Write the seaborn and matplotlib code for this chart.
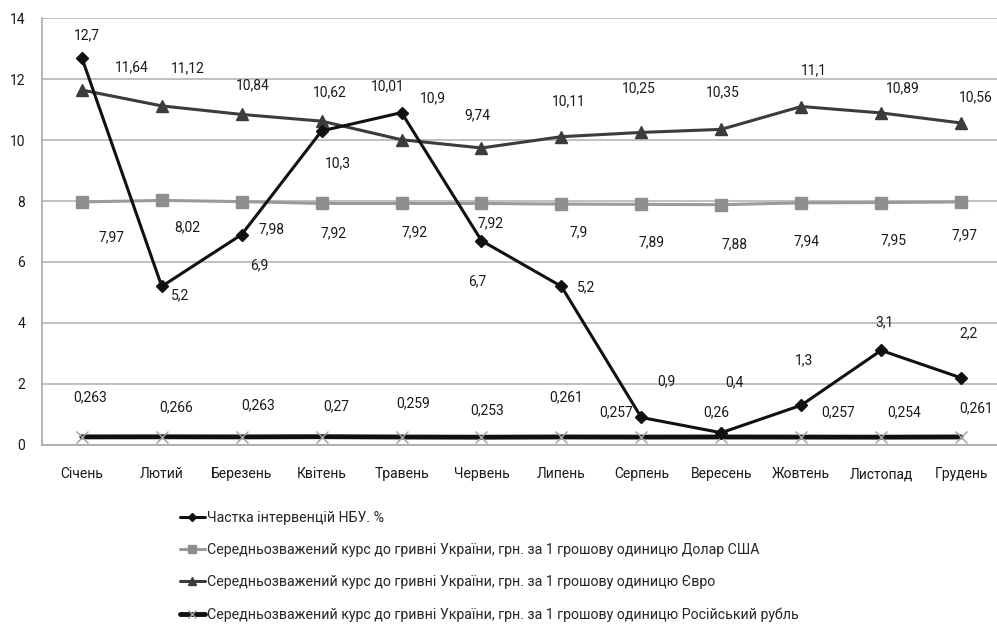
import pandas as pd
import matplotlib
matplotlib.use("Agg")
import matplotlib.pyplot as plt
import seaborn as sns

months = ['Січень', 'Лютий', 'Березень', 'Квітень', 'Травень', 'Червень',
          'Липень', 'Серпень', 'Вересень', 'Жовтень', 'Листопад', 'Грудень']

nbu_share = [12.7, 5.2, 6.9, 10.3, 10.9, 6.7, 5.2, 0.9, 0.4, 1.3, 3.1, 2.2]
usd_rate = [7.97, 8.02, 7.98, 7.92, 7.92, 7.92, 7.9, 7.89, 7.88, 7.94, 7.95, 7.97]
eur_rate = [11.64, 11.12, 10.84, 10.62, 10.01, 9.74, 10.11, 10.25, 10.35, 11.1, 10.89, 10.56]
rub_rate = [0.263, 0.266, 0.263, 0.27, 0.259, 0.253, 0.261, 0.257, 0.26, 0.257, 0.254, 0.261]

series_names = [
    'Частка інтервенцій НБУ. %',
    'Середньозважений курс до гривні України, грн. за 1 грошову одиницю Долар США',
    'Середньозважений курс до гривні України, грн. за 1 грошову одиницю Євро',
    'Середньозважений курс до гривні України, грн. за 1 грошову одиницю Російський рубль',
]

# label offsets in pixels (dx, dy with y downwards), as placed in the original
nbu_offsets = [(5, -22), (18, 9), (18, 31), (16, 32), (31, -14), (-4, 41),
               (25, 1), (25, -36), (13, -50), (3, -45), (3, -28), (7, -45)]
usd_offsets = [(30, 35), (25, 27), (30, 28), (12, 30), (13, 29), (9, 20),
               (17, 28), (10, 38), (13, 40), (5, 38), (12, 38), (3, 33)]
eur_offsets = [(50, -23), (26, -38), (11, -29), (8, -29), (-14, -53), (-4, -33),
               (7, -35), (-3, -44), (2, -37), (13, -36), (22, -25), (15, -26)]
rub_offsets = [(8, -40), (14, -30), (16, -32), (15, -30), (12, -34), (6, -27),
               (5, -40), (-25, -25), (-5, -25), (37, -25), (23, -25), (15, -29)]

sns.set_style('white')
plt.rcParams['font.family'] = ['Roboto', 'DejaVu Sans']

fig = plt.figure(figsize=(9.97, 6.24), dpi=100)
ax = fig.add_axes([0.042, 0.287, 0.962, 0.684])

x = list(range(len(months)))

styles = [
    dict(values=nbu_share, color='#111111', marker='D', ms=6, lw=2.2, mfc='#111111', mec='#111111', z=4),
    dict(values=usd_rate, color='#9a9a9a', marker='s', ms=9, lw=2.2, mfc='#8e8e8e', mec='#8e8e8e', z=2),
    dict(values=eur_rate, color='#3c3c3c', marker='^', ms=9, lw=2.2, mfc='#3c3c3c', mec='#3c3c3c', z=3),
    dict(values=rub_rate, color='#111111', marker='x', ms=9, lw=3.5, mfc='#a0a0a0', mec='#a0a0a0', z=3),
]

for name, st in zip(series_names, styles):
    sns.lineplot(x=x, y=st['values'], ax=ax, color=st['color'], linewidth=st['lw'],
                 marker=st['marker'], markersize=st['ms'], markerfacecolor=st['mfc'],
                 markeredgecolor=st['mec'], markeredgewidth=1.0, label=name,
                 zorder=st['z'], sort=False)

def add_labels(values, offsets):
    for xi, v, (dx, dy) in zip(x, values, offsets):
        txt = f'{v:g}'.replace('.', ',')
        ax.annotate(txt, (xi, v), xytext=(dx * 0.72, -dy * 0.72),
                    textcoords='offset points', ha='center', va='center',
                    fontsize=10, color='#1a1a1a', zorder=6)

add_labels(nbu_share, nbu_offsets)
add_labels(usd_rate, usd_offsets)
add_labels(eur_rate, eur_offsets)
add_labels(rub_rate, rub_offsets)

ax.set_xlim(-0.5, 11.5)
ax.set_ylim(0, 14)
ax.set_yticks(range(0, 15, 2))
ax.set_xticks(x)
ax.set_xticklabels(months, fontsize=10, color='#1a1a1a')
ax.tick_params(axis='y', labelsize=10, labelcolor='#1a1a1a', length=0, pad=12)
ax.tick_params(axis='x', length=0, pad=16)
ax.yaxis.grid(True, color='#b5b5b5', linewidth=1.2)
ax.set_axisbelow(True)
for side in ['top', 'right']:
    ax.spines[side].set_visible(False)
ax.spines['left'].set_color('#a8a8a8')
ax.spines['bottom'].set_color('#a8a8a8')
ax.spines['left'].set_linewidth(1.2)
ax.spines['bottom'].set_linewidth(1.2)

handles, labels = ax.get_legend_handles_labels()
ax.get_legend().remove()
fig.legend(handles, labels, loc='upper left', bbox_to_anchor=(0.181, 0.181),
           frameon=False, fontsize=10.2, handlelength=1.7, handletextpad=0.2,
           labelspacing=1.28, borderaxespad=0, borderpad=0, markerscale=0.7)

plt.savefig('out.png', dpi=100)
plt.close()
